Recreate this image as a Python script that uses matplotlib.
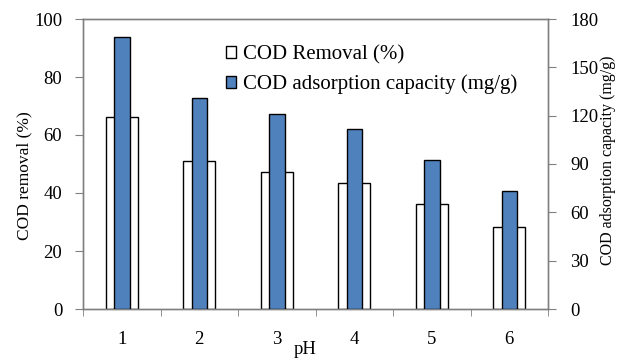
import numpy as np
import matplotlib
matplotlib.use("Agg")
import matplotlib.pyplot as plt
from matplotlib.patches import Patch

ph = [1, 2, 3, 4, 5, 6]
cod_removal = [66.1, 51.0, 47.2, 43.4, 36.1, 28.4]        # %
cod_capacity = [169.0, 131.2, 120.8, 111.5, 92.5, 73.4]   # mg/g

plt.rcParams['font.family'] = ['Liberation Serif', 'DejaVu Serif']
plt.rcParams['font.size'] = 13.5

fig = plt.figure(figsize=(6.33, 3.6), dpi=100)
ax = fig.add_axes([83 / 633, 1 - 309 / 360, 465 / 633, 290 / 360])
ax2 = ax.twinx()

x = np.arange(len(ph))
ax.bar(x, cod_removal, width=0.41, color='white', edgecolor='black', linewidth=1.0, zorder=2)
ax2.bar(x, cod_capacity, width=0.2, color='#4f81bd', edgecolor='black', linewidth=1.0, zorder=3)

ax.set_xlim(-0.5, len(ph) - 0.5)
ax.set_ylim(0, 100)
ax2.set_ylim(0, 180)
ax.set_yticks(range(0, 101, 20))
ax2.set_yticks(range(0, 181, 30))

# category labels centred, tick marks at category borders
ax.set_xticks(x)
ax.set_xticklabels([str(p) for p in ph])
ax.set_xticks(np.arange(-0.5, len(ph), 1), minor=True)
ax.tick_params(axis='x', which='major', length=0, pad=16)
ax.tick_params(axis='x', which='minor', length=5, direction='out', color='#808080')
ax.tick_params(axis='y', length=6, direction='out', color='#808080', pad=9)
ax2.tick_params(axis='y', length=6, direction='out', color='#808080', pad=10)

for a in (ax, ax2):
    for s in a.spines.values():
        s.set_color('#808080')
        s.set_linewidth(1.0)

ax.set_xlabel('pH')
ax.set_ylabel('COD removal (%)', fontsize=12.5)
ax2.set_ylabel('COD adsorption capacity (mg/g)', fontsize=11.5)
ax.xaxis.set_label_coords(0.477, -0.112)
ax.yaxis.set_label_coords(-0.108, 0.459)
ax2.yaxis.set_label_coords(1.112, 0.514)

handles = [Patch(facecolor='white', edgecolor='black', label='COD Removal (%)'),
           Patch(facecolor='#4f81bd', edgecolor='black', label='COD adsorption capacity (mg/g)')]
ax2.legend(handles=handles, loc='upper left', bbox_to_anchor=(226 / 633, 1 - 45 / 360),
           bbox_transform=fig.transFigure, frameon=False, borderpad=0, borderaxespad=0,
           handlelength=0.48, handleheight=0.48, handletextpad=0.35, labelspacing=0.5,
           fontsize=15)

fig.savefig('out.png', dpi=100)
